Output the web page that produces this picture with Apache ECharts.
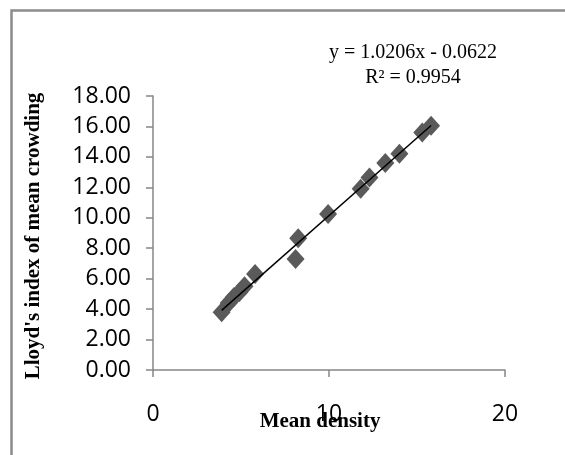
<!DOCTYPE html>
<html>
	<head>
		<meta charset="UTF-8">
		<title></title>
		<style>
			html, body { margin: 0; padding: 0; background: #fff; }
		</style>
	</head>
	<body>
		<div id="box" style="width: 565px;height: 455px;"></div>
		<script src="https://cdn.jsdelivr.net/npm/echarts@6/dist/echarts.min.js" type="text/javascript" charset="utf-8"></script>
		<script type="text/javascript">
			// mean density (x) and Lloyd's mean crowding (y)
			const meanDensity = [3.9, 4.3, 4.6, 4.9, 5.2, 5.8, 8.1, 8.25, 9.95, 11.8, 12.3, 13.2, 14.0, 15.3, 15.8];
			const meanCrowding = [3.8, 4.4, 4.8, 5.1, 5.5, 6.3, 7.3, 8.65, 10.25, 11.9, 12.65, 13.6, 14.2, 15.6, 16.05];
			const trendSlope = 1.0206;
			const trendIntercept = -0.0622;
			const rSquared = 0.9954;
			const xTicks = [0, 10, 20];
			const yTicks = [0, 2, 4, 6, 8, 10, 12, 14, 16, 18];

			const points = meanDensity.map((x, i) => [x, meanCrowding[i]]);
			const xMin = Math.min(...meanDensity);
			const xMax = Math.max(...meanDensity);
			const trend = [xMin, xMax].map(x => [x, trendSlope * x + trendIntercept]);

			const axisGray = '#878787';
			const labelFont = '"Open Sans", sans-serif';
			const serif = '"Liberation Serif", "Times New Roman", serif';

			const option = {
			    animation: false,
			    grid: {
			        left: 153,
			        right: 60,
			        top: 96,
			        bottom: 85
			    },
			    graphic: [{
			        type: 'rect',
			        left: 9,
			        top: 8,
			        shape: { width: 620, height: 520 },
			        style: { fill: 'none', stroke: '#8c8c8c', lineWidth: 2.5 },
			        silent: true
			    }, {
			        type: 'text',
			        x: 413,
			        y: 40,
			        style: {
			            text: 'y = ' + trendSlope.toFixed(4) + 'x - ' + Math.abs(trendIntercept).toFixed(4) + '\nR² = ' + rSquared.toFixed(4),
			            font: '20px ' + serif,
			            fill: '#000',
			            align: 'center',
			            lineHeight: 25
			        }
			    }, {
			        type: 'text',
			        x: 320,
			        y: 422,
			        style: {
			            text: 'Mean density',
			            font: 'bold 21px ' + serif,
			            fill: '#000',
			            align: 'center',
			            verticalAlign: 'middle'
			        }
			    }, {
			        type: 'text',
			        x: 34,
			        y: 236,
			        rotation: Math.PI / 2,
			        style: {
			            text: "Lloyd's index of mean crowding",
			            font: 'bold 21px ' + serif,
			            fill: '#000',
			            align: 'center',
			            verticalAlign: 'middle'
			        }
			    }],
			    xAxis: {
			        type: 'value',
			        min: xTicks[0],
			        max: xTicks[xTicks.length - 1],
			        interval: xTicks[1] - xTicks[0],
			        axisLine: { lineStyle: { color: axisGray, width: 1.5 } },
			        axisTick: { show: true, length: 7, lineStyle: { color: axisGray, width: 1.5 } },
			        axisLabel: {
			            margin: 33,
			            fontFamily: labelFont,
			            fontSize: 23,
			            color: '#000'
			        },
			        splitLine: { show: false }
			    },
			    yAxis: {
			        type: 'value',
			        min: yTicks[0],
			        max: yTicks[yTicks.length - 1],
			        interval: yTicks[1] - yTicks[0],
			        axisLine: { show: true, lineStyle: { color: axisGray, width: 1.5 } },
			        axisTick: { show: true, length: 7, lineStyle: { color: axisGray, width: 1.5 } },
			        axisLabel: {
			            margin: 22,
			            fontFamily: labelFont,
			            fontSize: 23,
			            color: '#000',
			            formatter: v => v.toFixed(2)
			        },
			        splitLine: { show: false }
			    },
			    series: [{
			        type: 'scatter',
			        data: points,
			        symbol: 'diamond',
			        symbolSize: [18, 20],
			        itemStyle: { color: '#5a5a5a', opacity: 1 },
			        z: 2
			    }, {
			        type: 'line',
			        data: trend,
			        symbol: 'none',
			        lineStyle: { color: '#000', width: 1.5 },
			        z: 3
			    }]
			};

			const myChart = echarts.init(document.getElementById('box'));
			myChart.setOption(option);
		</script>
	</body>
</html>
